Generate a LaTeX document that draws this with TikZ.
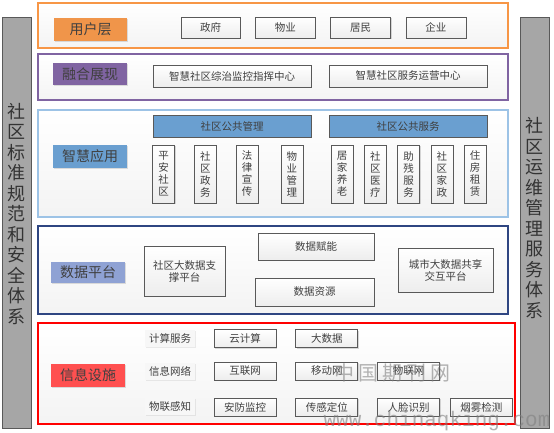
\documentclass[tikz,border=0pt]{standalone}
\usepackage{fontspec}
\setmainfont{Noto Sans CJK SC}
\newfontfamily\wmfont{Liberation Mono}
\usetikzlibrary{positioning, shadows}

\definecolor{txt}{HTML}{404040}
\definecolor{edge}{HTML}{595959}
\definecolor{userc}{HTML}{F79646}
\definecolor{userf}{HTML}{F0954A}
\definecolor{fusec}{HTML}{8064A2}
\definecolor{appc}{HTML}{9DC3E6}
\definecolor{appf}{HTML}{6A9FD0}
\definecolor{datac}{HTML}{2F4682}
\definecolor{dataf}{HTML}{8FA2D4}
\definecolor{infoc}{HTML}{FF0000}
\definecolor{infof}{HTML}{FF5050}
\definecolor{sidef}{HTML}{A6A6A6}

\tikzset{
  layer/.style={draw, line width=1.6pt, top color=white, bottom color=gray!9},
  tag/.style={text=txt, font=\fontsize{14}{16}\selectfont, inner sep=0pt,
    drop shadow={shadow xshift=1pt, shadow yshift=-1pt, opacity=0.25}},
  item/.style={draw=edge, line width=0.8pt, text=txt, top color=white, bottom color=gray!14,
    font=\fontsize{10.5}{12}\selectfont, inner sep=0pt, minimum height=21pt,
    drop shadow={shadow xshift=1pt, shadow yshift=-1pt, opacity=0.3}},
  vitem/.style={item, minimum width=22pt, minimum height=58pt, align=center},
  rowtag/.style={text=txt, fill=gray!6, font=\fontsize{10.5}{12}\selectfont, inner sep=0pt,
    minimum width=50pt, minimum height=17pt,
    drop shadow={shadow xshift=1pt, shadow yshift=-1pt, opacity=0.15}},
  side/.style={draw=edge, line width=0.8pt, fill=sidef, minimum width=29pt, minimum height=411pt},
  sidetext/.style={text=black!80, align=center, font=\fontsize{18}{20.5}\selectfont}
}

\begin{document}
\begin{tikzpicture}[x=1pt, y=-1pt, node distance=14.5pt, >=stealth]
  \useasboundingbox (0,0) rectangle (554,432);

  % 两侧体系
  \node[side] (left) at (16.5,222.5) {};
  \node[side] (right) at (534.5,222.5) {};
  \node[sidetext] (lefttxt) at (16.5,214) {社\\区\\标\\准\\规\\范\\和\\安\\全\\体\\系};
  \node[sidetext] (righttxt) at (534.5,218) {社\\区\\运\\维\\管\\理\\服\\务\\体\\系};

  % 用户层
  \node[layer, draw=userc, minimum width=470pt, minimum height=45pt] (l1) at (273,25.5) {};
  \node[tag, fill=userf, minimum width=73pt, minimum height=23pt] (t1) at (90.5,29.5) {用户层};
  \node[item, minimum width=59pt] (gov) at (210.5,27.5) {政府};
  \node[item, minimum width=60pt, right=of gov] (prop) {物业};
  \node[item, minimum width=60pt, right=of prop] (resid) {居民};
  \node[item, minimum width=60pt, right=of resid] (corp) {企业};

  % 融合展现
  \node[layer, draw=fusec, minimum width=470pt, minimum height=46pt] (l2) at (273,77) {};
  \node[tag, fill=fusec, minimum width=74pt, minimum height=22pt] (t2) at (90,74) {融合展现};
  \node[item, minimum width=158pt, minimum height=22pt] (cmd) at (232,76) {智慧社区综治监控指挥中心};
  \node[item, minimum width=158pt, minimum height=22pt] (ops) at (408,76) {智慧社区服务运营中心};

  % 智慧应用
  \node[layer, draw=appc, line width=1.4pt, minimum width=470pt, minimum height=107pt] (l3) at (273,163.5) {};
  \node[tag, fill=appf, minimum width=74pt, minimum height=23pt] (t3) at (90,156.5) {智慧应用};
  \node[item, fill=appf, top color=appf, bottom color=appf, minimum width=158pt, minimum height=22pt] (mgmt) at (232,126) {社区公共管理};
  \node[item, fill=appf, top color=appf, bottom color=appf, minimum width=158pt, minimum height=22pt] (serv) at (408,126) {社区公共服务};
  \node[vitem] (safe) at (163.5,174) {平\\安\\社\\区};
  \node[vitem, right=19pt of safe] (affair) {社\\区\\政\\务};
  \node[vitem, right=19pt of affair] (law) {法\\律\\宣\\传};
  \node[vitem, right=22pt of law] (estate) {物\\业\\管\\理};
  \node[vitem] (elder) at (342,174) {居\\家\\养\\老};
  \node[vitem, right=10.5pt of elder] (medic) {社\\区\\医\\疗};
  \node[vitem, right=10.5pt of medic] (disab) {助\\残\\服\\务};
  \node[vitem, right=10.5pt of disab] (house) {社\\区\\家\\政};
  \node[vitem, right=10.5pt of house] (rent) {住\\房\\租\\赁};

  % 数据平台
  \node[layer, draw=datac, line width=1.4pt, minimum width=470pt, minimum height=88pt] (l4) at (273,270) {};
  \node[tag, fill=dataf, minimum width=74pt, minimum height=21pt] (t4) at (88,272.5) {数据平台};
  \node[item, align=center, minimum width=81pt, minimum height=50pt] (bigsup) at (184.5,271) {社区大数据支\\撑平台};
  \node[item, minimum width=116pt, minimum height=27pt] (enable) at (316,246.5) {数据赋能};
  \node[item, minimum width=119pt, minimum height=28pt] (source) at (314.5,292) {数据资源};
  \node[item, align=center, minimum width=95pt, minimum height=44pt] (share) at (445.5,270) {城市大数据共享\\交互平台};

  % 信息设施
  \node[layer, draw=infoc, line width=1.4pt, minimum width=477pt, minimum height=101pt] (l5) at (276.5,373.5) {};
  \node[tag, fill=infof, minimum width=74pt, minimum height=23pt] (t5) at (88,375.5) {信息设施};
  \node[rowtag] (calc) at (170,338.5) {计算服务};
  \node[rowtag] (net) at (170,371.5) {信息网络};
  \node[rowtag] (iot) at (170,406.5) {物联感知};
  \node[item, minimum width=62pt, minimum height=18pt] (cloud) at (245,338.5) {云计算};
  \node[item, minimum width=62pt, minimum height=18pt, right=19pt of cloud] (bigdata) {大数据};
  \node[item, minimum width=62pt, minimum height=18pt] (inet) at (245,371) {互联网};
  \node[item, minimum width=62pt, minimum height=18pt, right=19pt of inet] (mobile) {移动网};
  \node[item, minimum width=62pt, minimum height=18pt, right=19pt of mobile] (thing) {物联网};
  \node[item, minimum width=62pt, minimum height=18pt] (secur) at (245,407) {安防监控};
  \node[item, minimum width=62pt, minimum height=18pt, right=19pt of secur] (sense) {传感定位};
  \node[item, minimum width=62pt, minimum height=18pt, right=19pt of sense] (face) {人脸识别};
  \node[item, minimum width=62pt, minimum height=18pt, right=10pt of face] (smoke) {烟雾检测};

  % 水印
  \node[text=gray, opacity=0.6, font=\fontsize{20}{22}\selectfont] (wm) at (392,373) {中\hspace{4pt}国\hspace{4pt}期\hspace{4pt}刊\hspace{4pt}网};
  \node[text=gray, opacity=0.6, font=\wmfont\fontsize{21}{22}\selectfont, inner sep=0pt] (wmurl) at (437,421) {www.chinaqking.com};
\end{tikzpicture}
\end{document}
